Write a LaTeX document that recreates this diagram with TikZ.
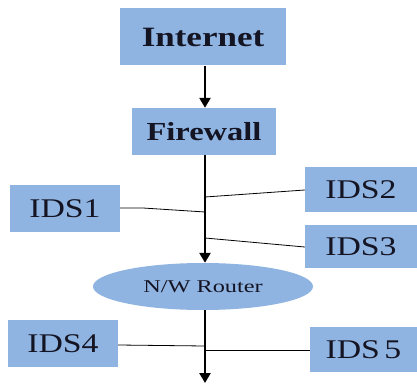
\documentclass[tikz,border=0pt]{standalone}
\usepackage{fontspec}
\setmainfont{Liberation Serif}
\newfontfamily\widefont[FakeStretch=1.25]{Liberation Serif}
\newfontfamily\widerfont[FakeStretch=1.35]{Liberation Serif}
\usetikzlibrary{shapes.geometric,arrows.meta}
\definecolor{boxblue}{RGB}{143,180,226}
\definecolor{txt}{RGB}{20,20,35}
\begin{document}
\begin{tikzpicture}[x=1pt,y=-1pt,
  box/.style={fill=boxblue,draw=none,inner sep=0pt,text=txt,font=\widefont},
  idsbox/.style={box,font=\widefont\fontsize{27}{29}\selectfont},
  main/.style={line width=2.4pt,-{Triangle[length=10pt,width=11pt]}},
  thin/.style={line width=0.8pt,draw=black}]
\useasboundingbox (0,0) rectangle (417,385);
\node[box,minimum width=166pt,minimum height=57pt,font=\widefont\bfseries\fontsize{28}{30}\selectfont] (inet) at (203,37) {Internet};
\node[box,minimum width=144pt,minimum height=47pt,font=\widefont\bfseries\fontsize{26}{28}\selectfont] (fw) at (204,131.5) {Firewall};
\node[idsbox,minimum width=110pt,minimum height=47pt] (ids1) at (65,208.5) {IDS1};
\node[idsbox,minimum width=112pt,minimum height=45pt] (ids2) at (361,189.5) {IDS2};
\node[idsbox,minimum width=112pt,minimum height=43pt] (ids3) at (361,246.5) {IDS3};
\node[idsbox,minimum width=110pt,minimum height=47pt] (ids4) at (63,343.5) {IDS4};
\node[idsbox,minimum width=107pt,minimum height=45pt] (ids5) at (363.5,349.5) {IDS\,5};
\node[ellipse,fill=boxblue,inner sep=0pt,minimum width=220pt,minimum height=47pt,text=txt,font=\widerfont\fontsize{18}{20}\selectfont] (rt) at (203,286.5) {N/W Router};
\coordinate (end) at (205,383);
\coordinate (j1) at (205,212);
\coordinate (j2) at (205,197);
\coordinate (j3) at (205,238);
\coordinate (j4) at (205,346);
\coordinate (j5) at (205,350);
\draw[main] (inet.south -| 205,0) -- (fw.north -| 205,0);
\draw[main] (fw.south -| 205,0) -- (rt.north -| 205,0);
\draw[main] (rt.south -| 205,0) -- (end);
\draw[thin] (ids1.east |- 0,208) -- (143,208) -- (j1);
\draw[thin] (j2) -- (ids2.west |- 0,190);
\draw[thin] (j3) -- (ids3.west |- 0,247);
\draw[thin] (ids4.east |- 0,345) -- (j4);
\draw[thin] (j5) -- (ids5.west |- 0,350);
\end{tikzpicture}
\end{document}
